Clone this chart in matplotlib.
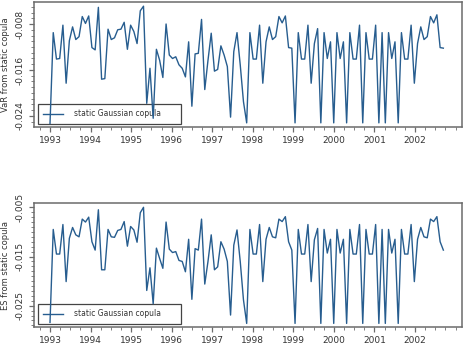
import numpy as np
import matplotlib
matplotlib.use("Agg")
import matplotlib.pyplot as plt
from matplotlib.ticker import MultipleLocator

# VaR from static Gaussian copula
var_static = [
    -0.0253, -0.0095, -0.0141, -0.0140, -0.0082, -0.0183, -0.0109, -0.0085, -0.0107, -0.0102,
    -0.0067, -0.0079, -0.0066, -0.0121, -0.0125, -0.0051, -0.0176, -0.0175, -0.0089, -0.0107,
    -0.0104, -0.0090, -0.0089, -0.0077, -0.0124, -0.0082, -0.0093, -0.0114, -0.0057, -0.0049,
    -0.0218, -0.0157, -0.0244, -0.0124, -0.0143, -0.0173, -0.0080, -0.0134, -0.0140, -0.0137,
    -0.0151, -0.0157, -0.0172, -0.0111, -0.0223, -0.0132, -0.0131, -0.0072, -0.0194, -0.0143,
    -0.0096, -0.0162, -0.0159, -0.0118, -0.0134, -0.0154, -0.0242, -0.0128, -0.0095, -0.0151,
    -0.0215, -0.0252, -0.0095, -0.0141, -0.0141, -0.0082, -0.0183, -0.0111, -0.0085, -0.0107,
    -0.0102, -0.0067, -0.0078, -0.0066, -0.0121, -0.0122, -0.0252, -0.0095, -0.0141, -0.0141,
    -0.0082, -0.0183, -0.0114, -0.0088, -0.0252, -0.0095, -0.0140, -0.0111, -0.0252, -0.0095,
    -0.0140, -0.0111, -0.0252, -0.0095, -0.0141, -0.0141, -0.0082, -0.0252, -0.0095, -0.0141,
    -0.0141, -0.0082, -0.0252, -0.0095, -0.0252, -0.0095, -0.0140, -0.0111, -0.0252, -0.0095,
    -0.0141, -0.0141, -0.0082, -0.0183, -0.0114, -0.0085, -0.0107, -0.0102, -0.0067, -0.0078,
    -0.0064, -0.0121, -0.0122,
]

# ES from static Gaussian copula
es_static = [
    -0.0284, -0.0095, -0.0145, -0.0145, -0.0085, -0.0201, -0.0113, -0.0091, -0.0106, -0.0110,
    -0.0074, -0.0080, -0.0070, -0.0120, -0.0137, -0.0055, -0.0177, -0.0177, -0.0095, -0.0110,
    -0.0111, -0.0097, -0.0095, -0.0079, -0.0129, -0.0089, -0.0096, -0.0121, -0.0061, -0.0050,
    -0.0219, -0.0173, -0.0246, -0.0133, -0.0154, -0.0174, -0.0080, -0.0135, -0.0142, -0.0140,
    -0.0158, -0.0160, -0.0181, -0.0115, -0.0237, -0.0134, -0.0137, -0.0074, -0.0206, -0.0160,
    -0.0106, -0.0177, -0.0171, -0.0120, -0.0135, -0.0160, -0.0269, -0.0127, -0.0096, -0.0160,
    -0.0238, -0.0286, -0.0095, -0.0145, -0.0145, -0.0085, -0.0201, -0.0115, -0.0091, -0.0110,
    -0.0112, -0.0074, -0.0079, -0.0069, -0.0120, -0.0137, -0.0286, -0.0095, -0.0145, -0.0145,
    -0.0085, -0.0201, -0.0116, -0.0093, -0.0286, -0.0095, -0.0143, -0.0115, -0.0286, -0.0095,
    -0.0143, -0.0115, -0.0286, -0.0095, -0.0145, -0.0145, -0.0085, -0.0286, -0.0095, -0.0145,
    -0.0145, -0.0085, -0.0286, -0.0095, -0.0286, -0.0095, -0.0143, -0.0115, -0.0286, -0.0095,
    -0.0145, -0.0145, -0.0085, -0.0201, -0.0115, -0.0091, -0.0110, -0.0112, -0.0074, -0.0079,
    -0.0069, -0.0120, -0.0137,
]

t = np.linspace(1993.0, 2002.70, len(var_static))
years = list(range(1993, 2003))

line_col = "#275d8f"
spine_col = "#6b6b6b"
txt_col = "#333333"

fig = plt.figure(figsize=(4.67, 3.56), dpi=100)
ax1 = fig.add_axes([0.0728, 0.6424, 0.9165, 0.352])
ax2 = fig.add_axes([0.0728, 0.0806, 0.9165, 0.3483])

panels = [
    (ax1, var_static, "VaR from static copula", [-0.024, -0.016, -0.008], (-0.02597, -0.00417)),
    (ax2, es_static, "ES from static copula", [-0.025, -0.015, -0.005], (-0.02939, -0.00419)),
]

for ax, y, lab, yt, ylim in panels:
    ax.plot(t, y, color=line_col, lw=1.0, zorder=3, label="static Gaussian copula")
    ax.set_xlim(1992.605, 2003.16)
    ax.set_ylim(*ylim)
    ax.set_xticks(years)
    ax.set_xticklabels([str(v) for v in years])
    ax.xaxis.set_minor_locator(MultipleLocator(0.25))
    ax.set_yticks(yt)
    ax.set_yticklabels(["%.3f" % v for v in yt], rotation=90, va="center")
    ax.yaxis.set_minor_locator(MultipleLocator(0.001))
    ax.tick_params(axis="both", which="major", labelsize=6.5, length=3.5,
                   width=0.9, color=spine_col, labelcolor=txt_col, pad=3)
    ax.tick_params(axis="both", which="minor", length=2, width=0.6, color=spine_col)
    for s in ax.spines.values():
        s.set_color(spine_col)
        s.set_linewidth(1.1)
    ax.set_ylabel(lab, fontsize=6, color=txt_col)
    ax.yaxis.set_label_coords(-0.056, 0.5)
    leg = ax.legend(loc="lower left", bbox_to_anchor=(0.009, 0.03, 0.334, 0.14),
                    mode="expand", fontsize=5.5,
                    fancybox=False, edgecolor="#444444", framealpha=1.0,
                    handlelength=2.6, handletextpad=1.4, borderpad=0.7,
                    borderaxespad=0.0)
    leg.get_frame().set_linewidth(0.9)
    leg.set_zorder(2)
    for tx in leg.get_texts():
        tx.set_color(txt_col)

fig.savefig("out.png", dpi=100)
